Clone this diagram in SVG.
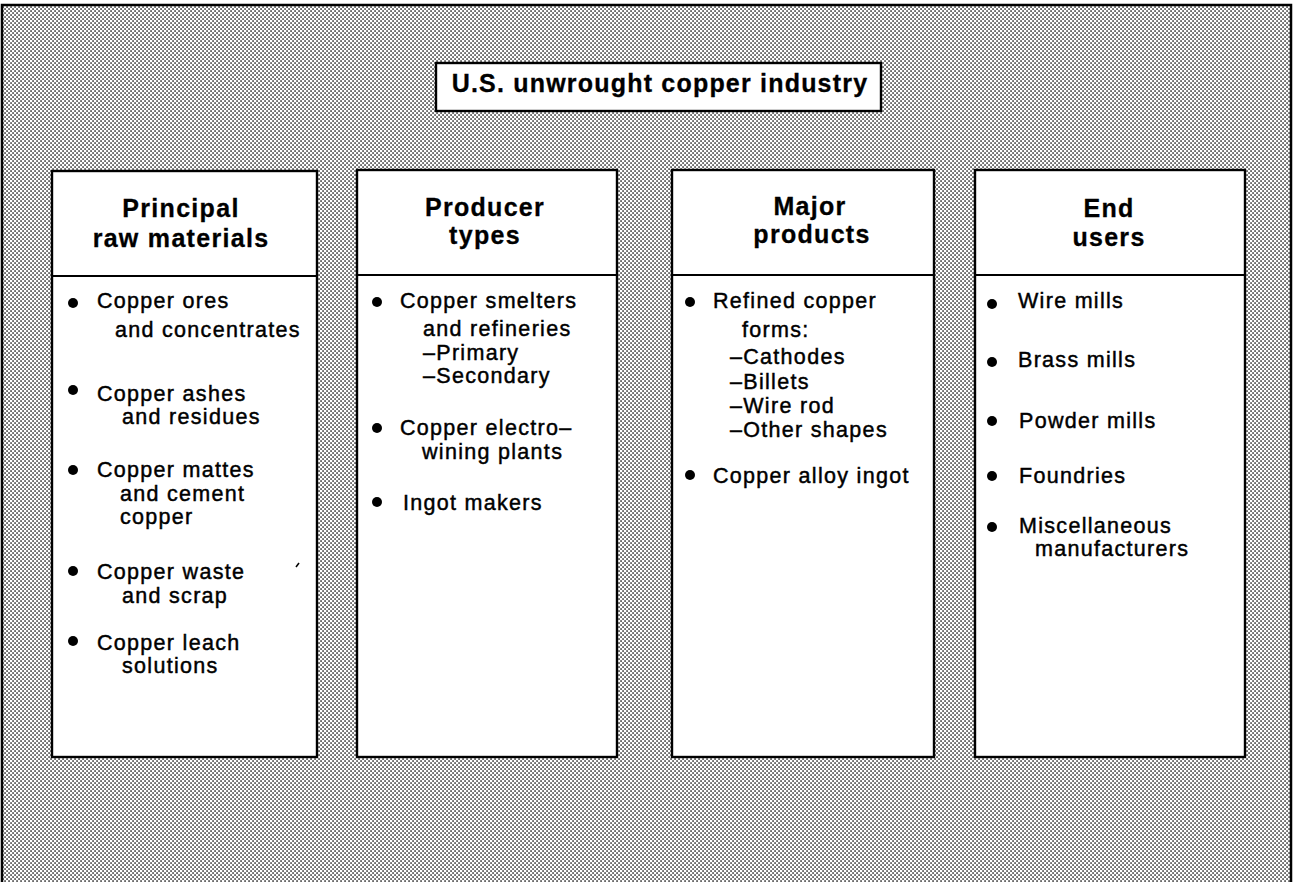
<svg xmlns="http://www.w3.org/2000/svg" width="1296" height="882" viewBox="0 0 1296 882">
<defs>
<pattern id="dots" x="0" y="0" width="4" height="4" patternUnits="userSpaceOnUse">
<rect x="0" y="0" width="4" height="4" fill="#ffffff"/>
<rect x="0.3" y="0.3" width="1.5" height="1.5" fill="#1a1a1a"/>
<rect x="2.3" y="2.3" width="1.5" height="1.5" fill="#1a1a1a"/>
</pattern>
</defs>
<style>
.box{fill:#ffffff;stroke:#000000;stroke-width:2.4}
.div{stroke:#000000;stroke-width:2}
.hd{font-family:"Liberation Sans",Arial,Helvetica,sans-serif;font-weight:bold;font-size:25px;letter-spacing:1.3px;fill:#000000;stroke:#000000;stroke-width:0.3px;text-anchor:middle}
.tt{font-family:"Liberation Sans",Arial,Helvetica,sans-serif;font-weight:bold;font-size:25px;letter-spacing:1.2px;fill:#000000;stroke:#000000;stroke-width:0.3px;text-anchor:middle}
.bd{font-family:"Liberation Sans",Arial,Helvetica,sans-serif;font-size:21.5px;letter-spacing:1.3px;fill:#000000;stroke:#000000;stroke-width:0.45px}
.bl{fill:#000000}
</style>
<rect x="0" y="0" width="1296" height="882" fill="#ffffff"/>
<rect x="2" y="5" width="1289" height="880" fill="url(#dots)" stroke="#000000" stroke-width="2.5"/>

<g id="title">
<rect class="box" x="436" y="63" width="445" height="48"/>
<text class="tt" x="660" y="92">U.S. unwrought copper industry</text>
</g>

<g id="col-raw-materials">
<rect class="box" x="52" y="171" width="265" height="586"/>
<line class="div" x1="52" y1="276" x2="317" y2="276"/>
<text class="hd" x="181" y="217">Principal</text>
<text class="hd" x="181" y="247">raw materials</text>
<circle class="bl" cx="73" cy="303" r="5"/>
<text class="bd" x="97" y="308">Copper ores</text>
<text class="bd" x="115" y="337">and concentrates</text>
<circle class="bl" cx="73" cy="390" r="5"/>
<text class="bd" x="97" y="401">Copper ashes</text>
<text class="bd" x="122" y="424">and residues</text>
<circle class="bl" cx="73" cy="470" r="5"/>
<text class="bd" x="97" y="477">Copper mattes</text>
<text class="bd" x="120" y="501">and cement</text>
<text class="bd" x="120" y="524">copper</text>
<circle class="bl" cx="73" cy="571" r="5"/>
<text class="bd" x="97" y="579">Copper waste</text>
<text class="bd" x="122" y="603">and scrap</text>
<circle class="bl" cx="73" cy="641" r="5"/>
<text class="bd" x="97" y="650">Copper leach</text>
<text class="bd" x="122" y="673">solutions</text>
<path d="M296,567 L299,563" stroke="#000000" stroke-width="1.6" fill="none"/>
</g>

<g id="col-producer-types">
<rect class="box" x="357" y="170" width="260" height="587"/>
<line class="div" x1="357" y1="275" x2="617" y2="275"/>
<text class="hd" x="485" y="216">Producer</text>
<text class="hd" x="485" y="244">types</text>
<circle class="bl" cx="377" cy="302" r="5"/>
<text class="bd" x="400" y="308">Copper smelters</text>
<text class="bd" x="423" y="336">and refineries</text>
<text class="bd" x="423" y="360">–Primary</text>
<text class="bd" x="423" y="383">–Secondary</text>
<circle class="bl" cx="377" cy="428" r="5"/>
<text class="bd" x="400" y="435">Copper electro–</text>
<text class="bd" x="422" y="459">wining plants</text>
<circle class="bl" cx="377" cy="502" r="5"/>
<text class="bd" x="403" y="510">Ingot makers</text>
</g>

<g id="col-major-products">
<rect class="box" x="672" y="170" width="262" height="587"/>
<line class="div" x1="672" y1="275" x2="934" y2="275"/>
<text class="hd" x="810" y="215">Major</text>
<text class="hd" x="812" y="243">products</text>
<circle class="bl" cx="690" cy="302" r="5"/>
<text class="bd" x="713" y="308">Refined copper</text>
<text class="bd" x="742" y="337">forms:</text>
<text class="bd" x="730" y="364">–Cathodes</text>
<text class="bd" x="730" y="389">–Billets</text>
<text class="bd" x="730" y="413">–Wire rod</text>
<text class="bd" x="730" y="437">–Other shapes</text>
<circle class="bl" cx="690" cy="475" r="5"/>
<text class="bd" x="713" y="483">Copper alloy ingot</text>
</g>

<g id="col-end-users">
<rect class="box" x="975" y="170" width="270" height="587"/>
<line class="div" x1="975" y1="275" x2="1245" y2="275"/>
<text class="hd" x="1109" y="217">End</text>
<text class="hd" x="1109" y="246">users</text>
<circle class="bl" cx="992" cy="304" r="5"/>
<text class="bd" x="1018" y="308">Wire mills</text>
<circle class="bl" cx="992" cy="362" r="5"/>
<text class="bd" x="1018" y="367">Brass mills</text>
<circle class="bl" cx="992" cy="421" r="5"/>
<text class="bd" x="1019" y="428">Powder mills</text>
<circle class="bl" cx="992" cy="476" r="5"/>
<text class="bd" x="1019" y="483">Foundries</text>
<circle class="bl" cx="992" cy="527" r="5"/>
<text class="bd" x="1019" y="533">Miscellaneous</text>
<text class="bd" x="1035" y="556">manufacturers</text>
</g>

<g id="connectors"></g>
</svg>
